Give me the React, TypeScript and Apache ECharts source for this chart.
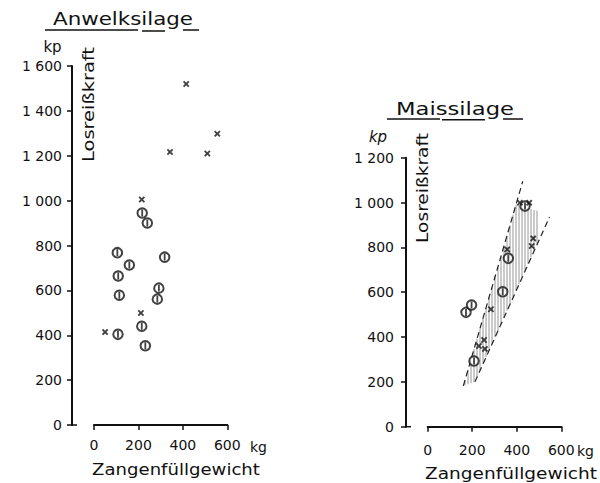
import React, { useEffect, useRef } from "react";
import * as echarts from "echarts";

// ---------- data (kg, kp) ----------
const xTickValues = [0, 200, 400, 600];
const leftYMax = 1600;
const rightYMax = 1200;

const anwelkCircles = [
  [217, 945], [240, 900], [105, 768], [318, 748], [159, 713], [109, 664],
  [292, 610], [114, 578], [285, 561], [215, 440], [108, 404], [231, 353],
];
const anwelkCrosses = [
  [415, 1520], [342, 1217], [555, 1298], [510, 1210], [215, 1005], [211, 499], [50, 414],
];

const maisCircles = [
  [172, 510], [197, 543], [208, 293], [337, 602], [362, 751], [437, 984],
];
const maisCrosses = [
  [284, 524], [253, 387], [230, 360], [257, 347], [357, 791], [474, 840],
  [467, 806], [414, 999], [456, 999],
];
const maisBoundA = [[160, 182], [427, 1095]];
const maisBoundB = [[212, 200], [547, 935]];
const maisHatch = [[160, 182], [396, 989], [495, 962], [495, 825], [212, 200]];

// ---------- styles ----------
const INK = "#111";
const FONT = "DejaVu Sans";
const CROSS = "path://M0,2L2,0L5,3L8,0L10,2L7,5L10,8L8,10L5,7L2,10L0,8L3,5Z";
const BAR = "path://M0,0H1V1H0Z";

const fmtK = (v: number) =>
  v >= 1000 ? `${Math.floor(v / 1000)} ${String(v % 1000).padStart(3, "0")}` : `${v}`;

function measure(text: string, font: string) {
  const c = document.createElement("canvas").getContext("2d")!;
  c.font = font;
  return c.measureText(text).width || 1;
}

function stretchedText(text: string, x: number, y: number, size: number, target: number | null, opts: any = {}) {
  const font = `${opts.style || "normal"} ${size}px "${FONT}"`;
  const w = measure(text, font);
  const s = target ? target / w : 1;
  return {
    type: "text",
    x,
    y,
    rotation: opts.rotation || 0,
    scaleX: s,
    silent: true,
    style: {
      text,
      x: 0,
      y: 0,
      font,
      fill: INK,
      align: opts.align || "center",
      textAlign: opts.align || "center",
      verticalAlign: "middle",
      textVerticalAlign: "middle",
    },
  };
}

function hline(x1: number, x2: number, y: number, w = 1.5) {
  return { type: "line", silent: true, shape: { x1, y1: y, x2, y2: y }, style: { stroke: INK, lineWidth: w } };
}

export default function App() {
  const ref = useRef<HTMLDivElement>(null);
  useEffect(() => {
    const chart = echarts.init(ref.current!, null, { renderer: "svg" });

    // grid geometry
    const L = { left: 94, right: 600 - 227.3, top: 66, bottom: 483 - 425 };
    const R = { left: 427.7, right: 600 - 561.3, top: 157.7, bottom: 483 - 426.7 };
    const Loff = 22;
    const Roff = 21.7;

    const axisLabel = { color: INK, fontFamily: FONT, fontSize: 14 };
    const mkX = (gi: number, margin: number) => ({
      type: "value",
      gridIndex: gi,
      min: 0,
      max: 600,
      interval: 200,
      axisLine: { show: true, onZero: false, lineStyle: { color: INK, width: 2 } },
      axisTick: { show: true, length: 5, lineStyle: { color: INK, width: 1.5 } },
      splitLine: { show: false },
      axisLabel: { ...axisLabel, margin, formatter: (v: number) => (xTickValues.includes(v) ? `${v}` : "") },
    });
    const mkY = (gi: number, max: number, off: number, margin: number) => ({
      type: "value",
      gridIndex: gi,
      min: 0,
      max,
      interval: 200,
      offset: off,
      axisLine: { show: true, onZero: false, lineStyle: { color: INK, width: 2 } },
      axisTick: { show: true, length: 5, lineStyle: { color: INK, width: 1.5 } },
      splitLine: { show: false },
      axisLabel: { ...axisLabel, margin, formatter: fmtK },
    });

    const circleSeries = (data: number[][], xi: number) => [
      {
        type: "scatter",
        xAxisIndex: xi,
        yAxisIndex: xi,
        data,
        symbol: "emptyCircle",
        symbolSize: 9.5,
        itemStyle: { color: INK, borderColor: INK, borderWidth: 2.2 },
        z: 5,
      },
      {
        type: "scatter",
        xAxisIndex: xi,
        yAxisIndex: xi,
        data,
        symbol: BAR,
        symbolSize: [1.8, 7],
        itemStyle: { color: INK },
        z: 6,
      },
    ];
    const crossSeries = (data: number[][], xi: number) => ({
      type: "scatter",
      xAxisIndex: xi,
      yAxisIndex: xi,
      data,
      symbol: CROSS,
      symbolSize: 6.5,
      itemStyle: { color: INK },
      z: 7,
    });
    const dashed = (data: number[][]) => ({
      type: "line",
      xAxisIndex: 1,
      yAxisIndex: 1,
      data,
      symbol: "none",
      lineStyle: { color: "#222", width: 1.2, type: [6, 4] },
      z: 3,
    });

    const hatchSeries = {
      type: "custom",
      xAxisIndex: 1,
      yAxisIndex: 1,
      data: maisHatch,
      silent: true,
      z: 2,
      renderItem: (params: any, api: any) => {
        if (params.dataIndex !== 0) return null;
        const pts = maisHatch.map((p) => api.coord(p));
        const xs = pts.map((p: number[]) => p[0]);
        const minX = Math.min(...xs);
        const maxX = Math.max(...xs);
        const children: any[] = [];
        for (let px = Math.ceil(minX) + 1; px < maxX; px += 3) {
          const ys: number[] = [];
          for (let i = 0; i < pts.length; i++) {
            const a = pts[i];
            const b = pts[(i + 1) % pts.length];
            if (a[0] === b[0]) continue;
            const lo = Math.min(a[0], b[0]);
            const hi = Math.max(a[0], b[0]);
            if (px < lo || px > hi) continue;
            ys.push(a[1] + ((px - a[0]) * (b[1] - a[1])) / (b[0] - a[0]));
          }
          if (ys.length < 2) continue;
          children.push({
            type: "line",
            shape: { x1: px, y1: Math.min(...ys), x2: px, y2: Math.max(...ys) },
            style: { stroke: "#8a8a8a", lineWidth: 0.9 },
          });
        }
        return { type: "group", children };
      },
    };

    const Lax = L.left - Loff;
    const Rax = R.left - Roff;
    const graphic: any[] = [
      // titles
      stretchedText("Anwelksilage", 123, 19, 17, 140),
      hline(45, 138, 30),
      hline(142, 165, 31),
      hline(183, 199, 30),
      stretchedText("Maissilage", 455, 109.5, 17, 118),
      hline(387, 440, 119),
      hline(442, 485, 119.7),
      hline(503, 523, 119),
      // units
      stretchedText("kp", 52.5, 47, 15, null),
      stretchedText("kp", 378, 137, 15, null, { style: "italic" }),
      stretchedText("kg", 250, 447, 14, null, { align: "left" }),
      stretchedText("kg", 577, 451, 14, null, { align: "left" }),
      // axis titles
      stretchedText("Losreißkraft", 88.5, 104.5, 15, 115, { rotation: Math.PI / 2 }),
      stretchedText("Losreißkraft", 423, 188, 15, 110, { rotation: Math.PI / 2 }),
      stretchedText("Zangenfüllgewicht", 176, 470, 15, 168),
      stretchedText("Zangenfüllgewicht", 511, 474, 15, 172),
      // zero tick extension to the right of the y axes
      hline(Lax, Lax + 5, 425, 1.5),
      hline(Rax, Rax + 5, 426.7, 1.5),
    ];

    chart.setOption({
      animation: false,
      backgroundColor: "#fff",
      grid: [
        { ...L, containLabel: false },
        { ...R, containLabel: false },
      ],
      xAxis: [mkX(0, 13), mkX(1, 16)],
      yAxis: [mkY(0, leftYMax, Loff, 10), mkY(1, rightYMax, Roff, 12)],
      series: [
        ...circleSeries(anwelkCircles, 0),
        crossSeries(anwelkCrosses, 0),
        hatchSeries,
        dashed(maisBoundA),
        dashed(maisBoundB),
        ...circleSeries(maisCircles, 1),
        crossSeries(maisCrosses, 1),
      ],
      graphic,
    });
    return () => chart.dispose();
  }, []);
  return (
    <div
      ref={ref}
      style={{ position: "fixed", left: 0, top: 0, width: 600, height: 483, background: "#fff" }}
    />
  );
}
